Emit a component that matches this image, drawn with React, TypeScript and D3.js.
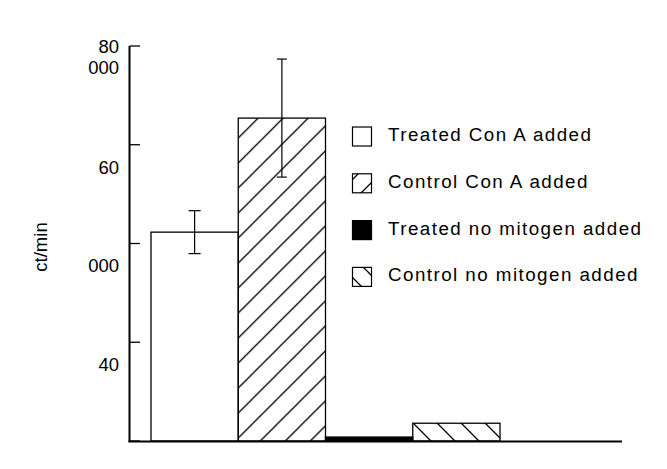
import React from "react";
import * as d3 from "d3";

const categories = [
  "Treated Con A added",
  "Control Con A added",
  "Treated no mitogen added",
  "Control no mitogen added",
];
const values = [42300, 65400, 800, 3600];
const errors = [4350, 11950, 0, 0];
const fills = ["white", "url(#hatchFwd)", "black", "url(#hatchBack)"];
const legendFills = ["white", "url(#lgFwd)", "black", "url(#lgBack)"];
const yTicks = [0, 20000, 40000, 60000, 80000];
// tick label lines as they appear (wrapped), anchored in data units
const yLabelLines = [
  { text: "80", v: 78680 },
  { text: "000", v: 74230 },
  { text: "60", v: 54080 },
  { text: "000", v: 34230 },
  { text: "40", v: 14180 },
];
const yTitle = "ct/min";

const W = 667;
const H = 469;
const FONT = "'Liberation Sans', Arial, Helvetica, sans-serif";

export default function App() {
  const y = d3.scaleLinear().domain([0, 80000]).range([441, 46]);
  const x = d3.scaleBand<string>().domain(categories).range([151, 500]).padding(0);
  const axisX = 129.5;
  const bw = x.bandwidth();

  return (
    <svg
      width={W}
      height={H}
      style={{ position: "absolute", left: 0, top: 0, background: "white" }}
    >
      <defs>
        <pattern id="hatchFwd" patternUnits="userSpaceOnUse" width={25} height={25} x={1.3} y={0}>
          <path d="M-5,5 L5,-5 M0,25 L25,0 M20,30 L30,20" stroke="black" strokeWidth={1.3} />
        </pattern>
        <pattern id="hatchBack" patternUnits="userSpaceOnUse" width={24} height={24} x={14} y={0}>
          <path d="M-5,-5 L29,29 M-5,19 L5,29 M19,-5 L29,5" stroke="black" strokeWidth={1.3} />
        </pattern>
        <pattern id="lgFwd" patternUnits="userSpaceOnUse" width={22} height={22} x={4} y={0}>
          <path d="M-5,5 L5,-5 M0,22 L22,0 M17,27 L27,17" stroke="black" strokeWidth={1.3} />
        </pattern>
        <pattern id="lgBack" patternUnits="userSpaceOnUse" width={21} height={21} x={12} y={0}>
          <path d="M-5,-5 L26,26 M-5,16 L5,26 M16,-5 L26,5" stroke="black" strokeWidth={1.3} />
        </pattern>
      </defs>

      {/* bars */}
      {categories.map((c, i) => (
        <rect
          key={c}
          x={x(c)}
          y={y(values[i])}
          width={bw}
          height={y(0) - y(values[i])}
          fill={fills[i]}
          stroke="black"
          strokeWidth={1.3}
        />
      ))}

      {/* error bars */}
      {categories.map((c, i) => {
        if (!errors[i]) return null;
        const cx = (x(c) as number) + bw / 2;
        const y1 = y(values[i] + errors[i]);
        const y2 = y(values[i] - errors[i]);
        const cap = i === 0 ? 6 : 5;
        return (
          <g key={"e" + c} stroke="black" strokeWidth={1.2}>
            <line x1={cx} x2={cx} y1={y1} y2={y2} />
            <line x1={cx - cap} x2={cx + cap} y1={y1} y2={y1} />
            <line x1={cx - cap} x2={cx + cap} y1={y2} y2={y2} />
          </g>
        );
      })}

      {/* axes */}
      <line x1={axisX} x2={axisX} y1={y(80000)} y2={y(0) + 1} stroke="black" strokeWidth={2} />
      <line x1={axisX - 1} x2={622} y1={y(0) + 0.5} y2={y(0) + 0.5} stroke="black" strokeWidth={2} />
      {yTicks.map((t) => (
        <line key={t} x1={axisX} x2={140} y1={y(t)} y2={y(t)} stroke="black" strokeWidth={1.3} />
      ))}
      {yLabelLines.map((l, i) => (
        <text
          key={i}
          x={119}
          y={y(l.v)}
          textAnchor="end"
          fontFamily={FONT}
          fontSize={18.5}
          fill="black"
        >
          {l.text}
        </text>
      ))}
      <text
        transform={`translate(46.5,247) rotate(-90)`}
        textAnchor="middle"
        fontFamily={FONT}
        fontSize={18.5}
        fill="black"
      >
        {yTitle}
      </text>

      {/* legend */}
      {categories.map((c, i) => {
        const top = 127 + i * 46.8;
        return (
          <g key={"l" + c}>
            <rect x={352.5} y={top} width={19} height={19} fill={legendFills[i]} stroke="black" strokeWidth={1.2} />
            <text
              x={388}
              y={top + 14}
              fontFamily={FONT}
              fontSize={18.8}
              letterSpacing={1.45}
              fill="black"
            >
              {c}
            </text>
          </g>
        );
      })}
    </svg>
  );
}
